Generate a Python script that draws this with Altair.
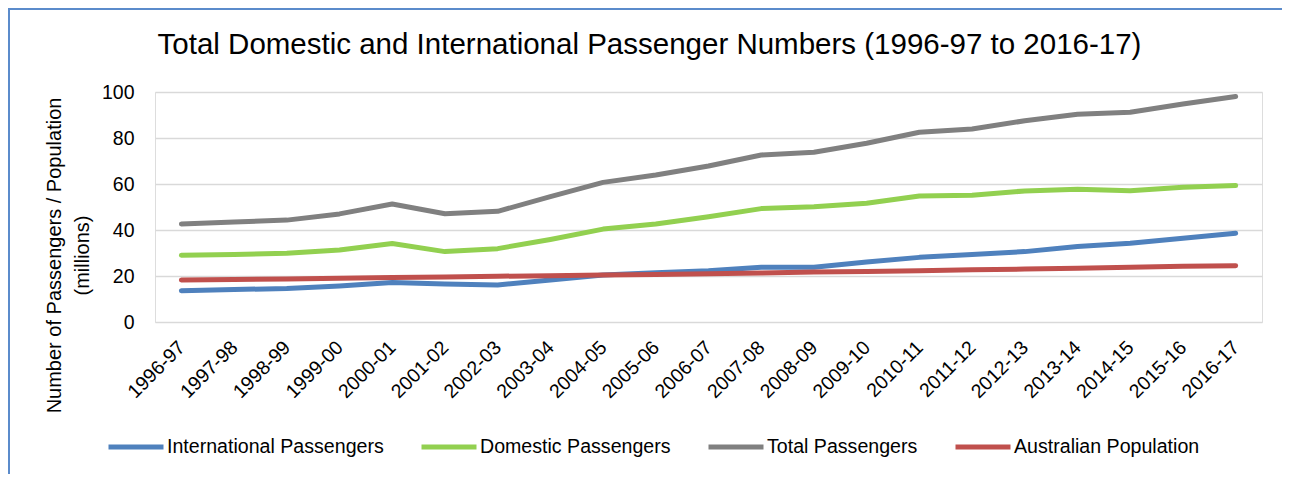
import altair as alt
import pandas as pd

years = ["1996-97","1997-98","1998-99","1999-00","2000-01","2001-02","2002-03","2003-04",
         "2004-05","2005-06","2006-07","2007-08","2008-09","2009-10","2010-11","2011-12",
         "2012-13","2013-14","2014-15","2015-16","2016-17"]
international = [13.6,14.1,14.6,15.7,17.2,16.5,16.1,18.3,20.4,21.4,22.3,23.8,23.8,26.1,28.1,29.3,30.6,32.8,34.2,36.4,38.6]
domestic = [29.0,29.3,29.9,31.3,34.1,30.6,31.9,35.9,40.4,42.6,45.8,49.3,50.1,51.6,54.8,55.1,57.0,57.7,57.1,58.6,59.3]
total = [42.6,43.5,44.3,47.0,51.3,47.1,48.1,54.5,60.7,63.9,67.8,72.6,73.8,77.7,82.5,83.9,87.5,90.3,91.2,94.8,98.0]
population = [18.3,18.5,18.7,19.0,19.3,19.6,19.9,20.1,20.4,20.7,21.0,21.3,21.7,22.0,22.3,22.7,23.0,23.4,23.8,24.2,24.5]

series = ["International Passengers","Domestic Passengers","Total Passengers","Australian Population"]
colors = ["#4F81BD","#92D050","#808080","#C0504D"]

rows = []
for name, vals in zip(series, [international, domestic, total, population]):
    for y, v in zip(years, vals):
        rows.append({"year": y, "value": v, "series": name})
df = pd.DataFrame(rows)

FONT = "Liberation Sans"

lines = alt.Chart(df).mark_line(strokeWidth=5, strokeCap="round", strokeJoin="round").encode(
    x=alt.X("year:N", sort=years, title=None,
            axis=alt.Axis(labelAngle=-45, labelAlign="right", labelBaseline="middle",
                          labelPadding=22, ticks=False, domain=False, grid=False,
                          labelFontSize=19.5, labelFont=FONT, labelColor="#000000")),
    y=alt.Y("value:Q", scale=alt.Scale(domain=[0, 100], nice=False),
            title=["Number of Passengers / Population", "(millions)"],
            axis=alt.Axis(values=[0, 20, 40, 60, 80, 100], ticks=False, domain=False,
                          grid=True, gridColor="#D9D9D9", gridWidth=1.5,
                          labelFontSize=19.5, labelFont=FONT, labelColor="#000000",
                          labelPadding=21, titleFont=FONT, titleFontSize=20,
                          titleFontWeight="normal", titleColor="#000000",
                          titleX=-91, titleY=163, titleLineHeight=28)),
    color=alt.Color("series:N", sort=series, scale=alt.Scale(domain=series, range=colors),
                    legend=alt.Legend(title=None, orient="none", direction="horizontal",
                                      columns=4, legendX=-49, legendY=325,
                                      symbolType="stroke", symbolSize=3025,
                                      symbolStrokeWidth=5, labelFont=FONT,
                                      labelFontSize=19.6, labelColor="#000000",
                                      labelOffset=1, columnPadding=27,
                                      labelLimit=400)),
)

frame_df = pd.DataFrame({"k": [0]})
top_border = alt.Chart(frame_df).mark_rule(color="#5B8BCB", strokeWidth=2).encode(
    x=alt.value(-147), x2=alt.value(1127), y=alt.value(-83)
)
left_border = alt.Chart(frame_df).mark_rule(color="#5B8BCB", strokeWidth=2).encode(
    x=alt.value(-146), y=alt.value(-84), y2=alt.value(382)
)

chart = alt.layer(lines, top_border, left_border).properties(
    width=1107, height=230,
    title=alt.TitleParams(
        "Total Domestic and International Passenger Numbers (1996-97 to 2016-17)",
        font="Liberation Sans", fontSize=29.5, fontWeight="normal", color="#000000",
        anchor="middle", dx=-59, baseline="alphabetic", offset=-76),
    autosize=alt.AutoSizeParams(type="none"),
    padding={"left": 147, "top": 84, "right": 20, "bottom": 152},
).configure_view(stroke=None).configure(background="#FFFFFF")

chart.save("out.html", embed_options={"renderer": "svg", "actions": False})
